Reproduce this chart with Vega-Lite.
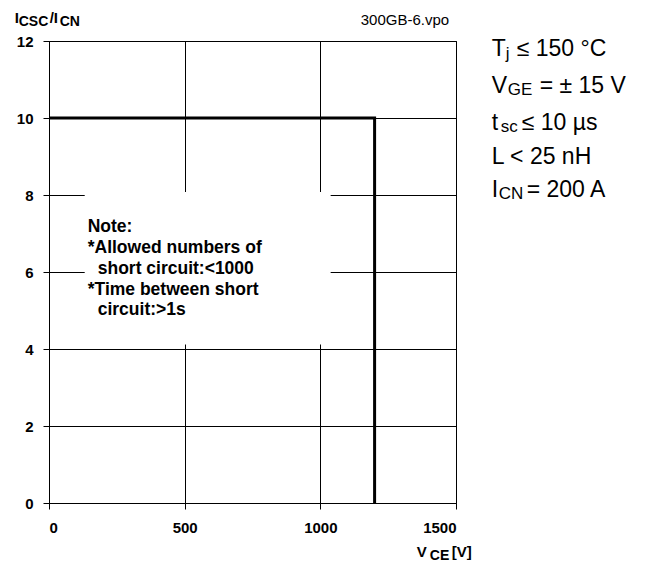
{
  "$schema": "https://vega.github.io/schema/vega-lite/v6.json",
  "autosize": {"type": "none"},
  "padding": {"left": 49, "top": 41, "right": 202, "bottom": 63},
  "width": 407,
  "height": 462,
  "background": "white",
  "config": {
    "view": {"stroke": "black", "strokeWidth": 1},
    "font": "Liberation Sans",
    "axis": {
      "gridColor": "black", "gridOpacity": 1, "gridWidth": 1,
      "domainColor": "black", "domainWidth": 1,
      "tickColor": "black", "tickSize": 6, "tickWidth": 1,
      "labelFont": "Liberation Sans", "labelFontWeight": "bold", "labelFontSize": 15, "labelColor": "black",
      "title": null
    }
  },
  "datasets": {
    "curve": [
      {"step": 1, "vce": 0, "ratio": 10},
      {"step": 2, "vce": 1200, "ratio": 10},
      {"step": 3, "vce": 1200, "ratio": 0}
    ],
    "box": [
      {"x1": 131.6, "x2": 1038, "y1": 8.08, "y2": 4.12}
    ],
    "labels": [
      {"grp": "bold", "text": "I", "x": -126.4, "y": 12.6},
      {"grp": "boldsub", "text": "CSC", "x": -111.7, "y": 12.49},
      {"grp": "bold", "text": "/I", "x": 2.6, "y": 12.6},
      {"grp": "boldsub", "text": "CN", "x": 39.4, "y": 12.49},
      {"grp": "file", "text": "300GB-6.vpo", "x": 1148.8, "y": 12.55},
      {"grp": "bold", "text": "V", "x": 1355.5, "y": -1.273},
      {"grp": "boldsub", "text": "CE", "x": 1403.4, "y": -1.377},
      {"grp": "bold", "text": "[V]", "x": 1484.5, "y": -1.273},
      {"grp": "note", "text": "Note:", "x": 142.6, "y": 7.17},
      {"grp": "note", "text": "*Allowed numbers of", "x": 142.6, "y": 6.62},
      {"grp": "note", "text": "short circuit:<1000", "x": 179.5, "y": 6.08},
      {"grp": "note", "text": "*Time between short", "x": 142.6, "y": 5.53},
      {"grp": "note", "text": "circuit:>1s", "x": 179.5, "y": 5.01},
      {"grp": "big", "text": "T", "x": 1631.7, "y": 11.79},
      {"grp": "bigsub", "text": "j", "x": 1683.3, "y": 11.66},
      {"grp": "big", "text": "≤ 150 °C", "x": 1723.8, "y": 11.79},
      {"grp": "big", "text": "V", "x": 1631.7, "y": 10.83},
      {"grp": "bigsub", "text": "GE", "x": 1690.7, "y": 10.73},
      {"grp": "big", "text": "= ± 15 V", "x": 1808.4, "y": 10.83},
      {"grp": "big", "text": "t", "x": 1631.7, "y": 9.87},
      {"grp": "bigsub", "text": "sc", "x": 1664.7, "y": 9.77},
      {"grp": "big", "text": "≤ 10 µs", "x": 1742.2, "y": 9.87},
      {"grp": "big", "text": "L < 25 nH", "x": 1631.7, "y": 8.99},
      {"grp": "big", "text": "I", "x": 1631.7, "y": 8.13},
      {"grp": "bigsub", "text": "CN", "x": 1657.6, "y": 8.03},
      {"grp": "big", "text": "= 200 A", "x": 1760.5, "y": 8.13}
    ]
  },
  "encoding": {
    "x": {"field": "x", "type": "quantitative", "scale": {"domain": [0, 1500], "nice": false, "zero": false},
          "axis": {"values": [0, 500, 1000, 1500], "format": "d", "labelPadding": 11, "grid": true}},
    "y": {"field": "y", "type": "quantitative", "scale": {"domain": [0, 12], "nice": false, "zero": false},
          "axis": {"values": [0, 2, 4, 6, 8, 10, 12], "format": "d", "labelPadding": 10, "grid": true}}
  },
  "layer": [
    {
      "data": {"name": "box"},
      "mark": {"type": "rect", "fill": "white", "stroke": null},
      "encoding": {
        "x": {"field": "x1", "type": "quantitative"},
        "x2": {"field": "x2"},
        "y": {"field": "y1", "type": "quantitative"},
        "y2": {"field": "y2"}
      }
    },
    {
      "data": {"name": "curve"},
      "mark": {"type": "line", "color": "black", "strokeWidth": 3, "strokeCap": "butt", "strokeJoin": "miter"},
      "encoding": {
        "x": {"field": "vce", "type": "quantitative"},
        "y": {"field": "ratio", "type": "quantitative"},
        "order": {"field": "step"}
      }
    },
    {
      "data": {"name": "labels"},
      "transform": [{"filter": "datum.grp === 'bold'"}],
      "mark": {"type": "text", "align": "left", "baseline": "middle", "fontWeight": "bold", "fontSize": 15, "color": "black"},
      "encoding": {"text": {"field": "text"}}
    },
    {
      "data": {"name": "labels"},
      "transform": [{"filter": "datum.grp === 'boldsub'"}],
      "mark": {"type": "text", "align": "left", "baseline": "middle", "fontWeight": "bold", "fontSize": 14, "color": "black"},
      "encoding": {"text": {"field": "text"}}
    },
    {
      "data": {"name": "labels"},
      "transform": [{"filter": "datum.grp === 'file'"}],
      "mark": {"type": "text", "align": "left", "baseline": "middle", "fontSize": 15, "color": "black"},
      "encoding": {"text": {"field": "text"}}
    },
    {
      "data": {"name": "labels"},
      "transform": [{"filter": "datum.grp === 'note'"}],
      "mark": {"type": "text", "align": "left", "baseline": "middle", "fontWeight": "bold", "fontSize": 17.5, "color": "black"},
      "encoding": {"text": {"field": "text"}}
    },
    {
      "data": {"name": "labels"},
      "transform": [{"filter": "datum.grp === 'big'"}],
      "mark": {"type": "text", "align": "left", "baseline": "middle", "fontSize": 23, "color": "black"},
      "encoding": {"text": {"field": "text"}}
    },
    {
      "data": {"name": "labels"},
      "transform": [{"filter": "datum.grp === 'bigsub'"}],
      "mark": {"type": "text", "align": "left", "baseline": "middle", "fontSize": 17, "color": "black"},
      "encoding": {"text": {"field": "text"}}
    }
  ]
}
